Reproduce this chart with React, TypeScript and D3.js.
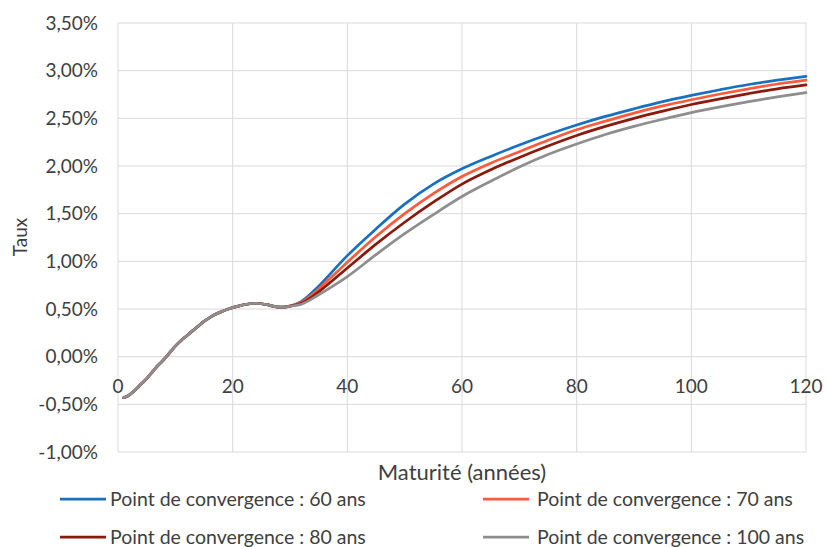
import React from "react";
import * as d3 from "d3";

const commonYears = [1, 2, 3, 4, 5, 6, 7, 8, 9, 10, 11, 12, 13, 14, 15, 16, 17, 18, 19, 20, 21, 22, 23, 24, 25, 26, 27, 28, 29, 30];
const commonRates = [-0.43, -0.4, -0.35, -0.29, -0.23, -0.16, -0.09, -0.03, 0.04, 0.11, 0.17, 0.22, 0.27, 0.32, 0.37, 0.41, 0.445, 0.47, 0.495, 0.515, 0.53, 0.545, 0.555, 0.56, 0.555, 0.545, 0.53, 0.52, 0.52, 0.53];

const tailYears = [32, 35, 40, 45, 50, 55, 60, 65, 70, 75, 80, 85, 90, 95, 100, 105, 110, 115, 120];
const conv60 = [0.58, 0.74, 1.06, 1.34, 1.6, 1.81, 1.97, 2.1, 2.22, 2.33, 2.43, 2.52, 2.6, 2.675, 2.74, 2.8, 2.855, 2.9, 2.94];
const conv70 = [0.57, 0.71, 0.99, 1.26, 1.5, 1.71, 1.89, 2.03, 2.15, 2.27, 2.38, 2.47, 2.555, 2.63, 2.695, 2.755, 2.81, 2.86, 2.9];
const conv80 = [0.56, 0.68, 0.93, 1.18, 1.41, 1.62, 1.81, 1.96, 2.09, 2.21, 2.32, 2.415, 2.5, 2.575, 2.645, 2.705, 2.76, 2.81, 2.85];
const conv100 = [0.55, 0.65, 0.84, 1.07, 1.29, 1.49, 1.68, 1.84, 1.99, 2.12, 2.23, 2.33, 2.415, 2.49, 2.56, 2.62, 2.675, 2.725, 2.77];

const seriesNames = [
  "Point de convergence : 60 ans",
  "Point de convergence : 70 ans",
  "Point de convergence : 80 ans",
  "Point de convergence : 100 ans",
];
const seriesColors = ["#1770C2", "#FF5A3C", "#8A1A0E", "#8E8E8E"];
const seriesTails = [conv60, conv70, conv80, conv100];

const xTicks = [0, 20, 40, 60, 80, 100, 120];
const yTicks = [-1, -0.5, 0, 0.5, 1, 1.5, 2, 2.5, 3, 3.5];

const W = 826;
const H = 547;
const M = { left: 118, right: 806, top: 23, bottom: 452 };
const FONT = "Lato, 'Open Sans', sans-serif";
const TEXT = "#404040";

export default function App() {
  const x = d3.scaleLinear().domain([0, 120]).range([M.left, M.right]);
  const y = d3.scaleLinear().domain([-1, 3.5]).range([M.bottom, M.top]);
  const line = d3
    .line<[number, number]>()
    .x((d) => x(d[0]))
    .y((d) => y(d[1]))
    .curve(d3.curveCatmullRom.alpha(0.5));

  const fmt = (v: number) => d3.format(".2f")(v).replace(".", ",").replace("−", "-") + "%";

  const series = seriesTails.map((tail) => {
    const pts: [number, number][] = commonYears.map((yr, i) => [yr, commonRates[i]]);
    tailYears.forEach((yr, i) => pts.push([yr, tail[i]]));
    return pts;
  });

  const legendPos = [
    { lx: 60, tx: 110, y: 499 },
    { lx: 483, tx: 537, y: 499 },
    { lx: 60, tx: 110, y: 537 },
    { lx: 483, tx: 537, y: 537 },
  ];

  return (
    <svg width={W} height={H} style={{ position: "absolute", left: 0, top: 0, background: "#fff" }} fontFamily={FONT}>
      <rect width={W} height={H} fill="#fff" />
      {yTicks.map((t) => (
        <line key={"gy" + t} x1={M.left} x2={M.right} y1={y(t)} y2={y(t)} stroke="#d9d9d9" strokeWidth={1} />
      ))}
      {xTicks.map((t) => (
        <line key={"gx" + t} x1={x(t)} x2={x(t)} y1={M.top} y2={M.bottom} stroke="#d9d9d9" strokeWidth={1} />
      ))}
      {yTicks.map((t) => (
        <text key={"ty" + t} x={98} y={y(t)} dy="0.35em" textAnchor="end" fontSize={19} fill={TEXT}>
          {fmt(t)}
        </text>
      ))}
      {xTicks.map((t) => (
        <text key={"tx" + t} x={x(t)} y={386} dy="0.35em" textAnchor="middle" fontSize={19} fill={TEXT}>
          {t}
        </text>
      ))}
      {series.map((pts, i) => (
        <path key={"s" + i} d={line(pts) || ""} fill="none" stroke={seriesColors[i]} strokeWidth={2.75} strokeLinejoin="round" strokeLinecap="round" />
      ))}
      <text x={20} y={237} transform="rotate(-90 20 237)" dy="0.35em" textAnchor="middle" fontSize={19} fill={TEXT}>
        Taux
      </text>
      <text x={462} y={472} dy="0.35em" textAnchor="middle" fontSize={22} fill={TEXT}>
        Maturité (années)
      </text>
      {seriesNames.map((name, i) => (
        <g key={"lg" + i}>
          <line x1={legendPos[i].lx} x2={legendPos[i].lx + 46} y1={legendPos[i].y} y2={legendPos[i].y} stroke={seriesColors[i]} strokeWidth={2.75} />
          <text x={legendPos[i].tx} y={legendPos[i].y} dy="0.35em" fontSize={19.5} fill={TEXT}>
            {name}
          </text>
        </g>
      ))}
    </svg>
  );
}
